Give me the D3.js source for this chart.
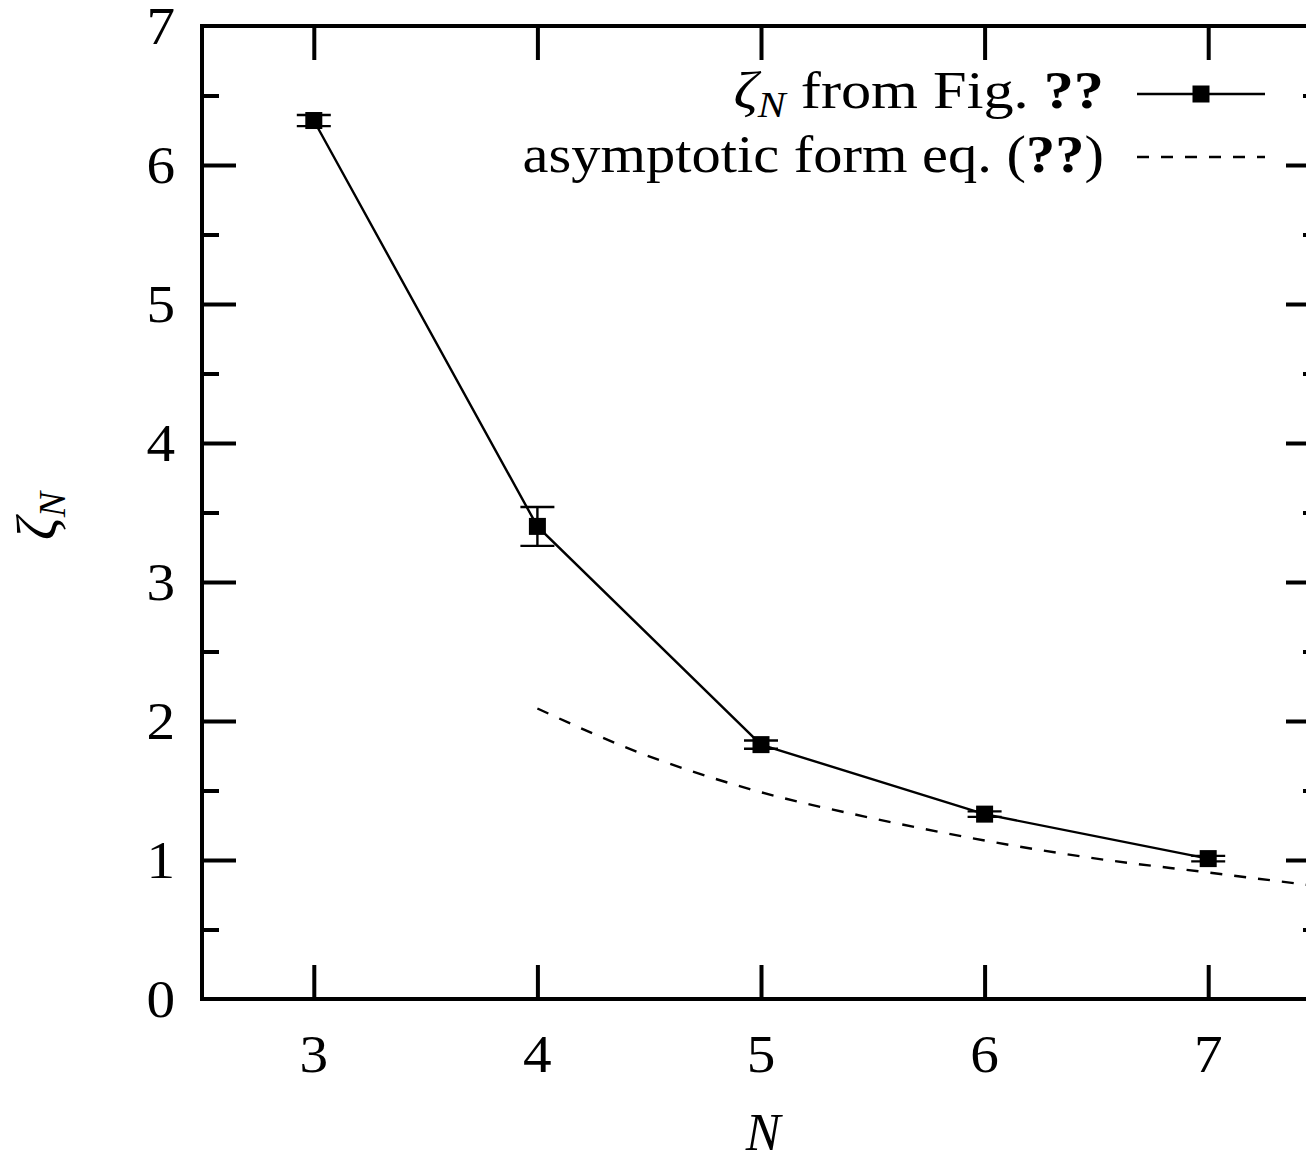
<!DOCTYPE html>
<html>
<head>
<meta charset="utf-8">
<script src="https://cdn.jsdelivr.net/npm/d3@7"></script>
<style>
  html, body { margin: 0; padding: 0; background: #fff; overflow: hidden; }
  svg { display: block; }
  text { font-family: "Liberation Serif", "DejaVu Serif", serif; fill: #000; }
</style>
</head>
<body>
<svg id="chart" width="1306" height="1161"></svg>
<script>
const nValues = [3, 4, 5, 6, 7];
const zetaValues = [6.32, 3.40, 1.83, 1.33, 1.01];
const zetaErrors = [0.04, 0.14, 0.03, 0.02, 0.02];

// asymptotic curve
const asymN = [4.0, 4.46, 4.95, 5.5, 5.71, 6.0, 6.5, 7.0, 7.5];
const asymZeta = [2.09, 1.77, 1.51, 1.30, 1.23, 1.14, 1.01, 0.91, 0.81];

const xTicks = [3, 4, 5, 6, 7];
const yTicks = [0, 1, 2, 3, 4, 5, 6, 7];
const yMinorTicks = [0.5, 1.5, 2.5, 3.5, 4.5, 5.5, 6.5];

const margin = {left: 202, top: 26, right: -14, bottom: 162};
const TOTAL_WIDTH = 1306, TOTAL_HEIGHT = 1161;
const width = TOTAL_WIDTH - margin.left - margin.right;
const height = TOTAL_HEIGHT - margin.top - margin.bottom;

const xScale = d3.scaleLinear().domain([2.5, 7.5]).range([0, width]);
const yScale = d3.scaleLinear().domain([0, 7]).range([height, 0]);

const svg = d3.select("#chart");
const g = svg.append("g")
    .attr("transform", `translate(${margin.left}, ${margin.top})`);

const MAJOR = 34, MINOR = 17, FONT = 52, LW = 2.4;

// tick marks drawn inward on all four sides
function tickLines(sel, axis) {
    sel.call(axis);
    sel.select(".domain").remove();
    sel.selectAll("line").attr("stroke", "#000").attr("stroke-width", 4);
    sel.selectAll("text").remove();
}
g.append("g").call(tickLines, d3.axisBottom(xScale).tickValues(xTicks).tickSize(-MAJOR))
    .attr("transform", `translate(0, ${height})`);
g.append("g").call(tickLines, d3.axisTop(xScale).tickValues(xTicks).tickSize(-MAJOR));
g.append("g").call(tickLines, d3.axisLeft(yScale).tickValues(yTicks.slice(1, -1)).tickSize(-MAJOR));
g.append("g").call(tickLines, d3.axisLeft(yScale).tickValues(yMinorTicks).tickSize(-MINOR));
g.append("g").call(tickLines, d3.axisRight(yScale).tickValues(yTicks.slice(1, -1)).tickSize(-MAJOR))
    .attr("transform", `translate(${width}, 0)`);
g.append("g").call(tickLines, d3.axisRight(yScale).tickValues(yMinorTicks).tickSize(-MINOR))
    .attr("transform", `translate(${width}, 0)`);

// frame
g.append("rect")
    .attr("x", 0).attr("y", 0)
    .attr("width", width).attr("height", height)
    .attr("fill", "none").attr("stroke", "#000").attr("stroke-width", 4);

// tick labels
g.selectAll(".xlab").data(xTicks).enter().append("text")
    .attr("class", "xlab")
    .attr("transform", d => `translate(${xScale(d)}, ${height + 73}) scale(1.1, 1)`)
    .attr("text-anchor", "middle")
    .attr("font-size", FONT)
    .text(d => d);
g.selectAll(".ylab").data(yTicks).enter().append("text")
    .attr("class", "ylab")
    .attr("transform", d => `translate(-27, ${yScale(d) + 18}) scale(1.1, 1)`)
    .attr("text-anchor", "end")
    .attr("font-size", FONT)
    .text(d => d);

// axis titles
svg.append("text")
    .attr("x", 763).attr("y", 1150)
    .attr("text-anchor", "middle")
    .attr("font-size", FONT)
    .attr("font-style", "italic")
    .text("N");
const ylab = svg.append("text")
    .attr("transform", "translate(56, 516) rotate(-90)")
    .attr("text-anchor", "middle")
    .attr("font-size", 56)
    .attr("font-style", "italic");
ylab.append("tspan").text("ζ");
ylab.append("tspan").attr("font-size", 38).attr("dy", 9).text("N");

// asymptotic form (dashed)
const asymData = asymN.map((n, i) => [n, asymZeta[i]]);
g.append("path")
    .datum(asymData)
    .attr("fill", "none")
    .attr("stroke", "#000")
    .attr("stroke-width", LW)
    .attr("stroke-dasharray", "12,12")
    .attr("d", d3.line().curve(d3.curveMonotoneX)
        .x(d => xScale(d[0])).y(d => yScale(d[1])));

// measured zeta_N
const data = nValues.map((n, i) => ({n: n, z: zetaValues[i], e: zetaErrors[i]}));
g.append("path")
    .datum(data)
    .attr("fill", "none")
    .attr("stroke", "#000")
    .attr("stroke-width", LW)
    .attr("d", d3.line().x(d => xScale(d.n)).y(d => yScale(d.z)));

const err = g.selectAll(".err").data(data).enter().append("g").attr("class", "err");
err.append("line")
    .attr("x1", d => xScale(d.n)).attr("x2", d => xScale(d.n))
    .attr("y1", d => yScale(d.z - d.e)).attr("y2", d => yScale(d.z + d.e))
    .attr("stroke", "#000").attr("stroke-width", LW);
[-1, 1].forEach(s => {
    err.append("line")
        .attr("x1", d => xScale(d.n) - 17).attr("x2", d => xScale(d.n) + 17)
        .attr("y1", d => yScale(d.z + s * d.e)).attr("y2", d => yScale(d.z + s * d.e))
        .attr("stroke", "#000").attr("stroke-width", LW);
});
g.selectAll(".pt").data(data).enter().append("rect")
    .attr("class", "pt")
    .attr("x", d => xScale(d.n) - 8.5)
    .attr("y", d => yScale(d.z) - 8.5)
    .attr("width", 17).attr("height", 17)
    .attr("fill", "#000");

// legend
const legX1 = 1137, legX2 = 1265;
const l1 = svg.append("text")
    .attr("transform", "translate(1104, 108) scale(1.16, 1)")
    .attr("text-anchor", "end")
    .attr("font-size", FONT);
l1.append("tspan").attr("font-style", "italic").text("ζ");
l1.append("tspan").attr("font-style", "italic").attr("font-size", 36).attr("dy", 9).text("N");
l1.append("tspan").attr("dy", -9).text(" from Fig. ");
l1.append("tspan").attr("font-weight", "bold").text("??");
svg.append("line")
    .attr("x1", legX1).attr("x2", legX2).attr("y1", 94).attr("y2", 94)
    .attr("stroke", "#000").attr("stroke-width", LW);
svg.append("rect")
    .attr("x", (legX1 + legX2) / 2 - 8.5).attr("y", 94 - 8.5)
    .attr("width", 17).attr("height", 17).attr("fill", "#000");

const l2 = svg.append("text")
    .attr("transform", "translate(1104, 172) scale(1.125, 1)")
    .attr("text-anchor", "end")
    .attr("font-size", FONT);
l2.append("tspan").text("asymptotic form eq. (");
l2.append("tspan").attr("font-weight", "bold").text("??");
l2.append("tspan").text(")");
svg.append("line")
    .attr("x1", legX1).attr("x2", legX2).attr("y1", 157).attr("y2", 157)
    .attr("stroke", "#000").attr("stroke-width", LW)
    .attr("stroke-dasharray", "12,12");
</script>
</body>
</html>
